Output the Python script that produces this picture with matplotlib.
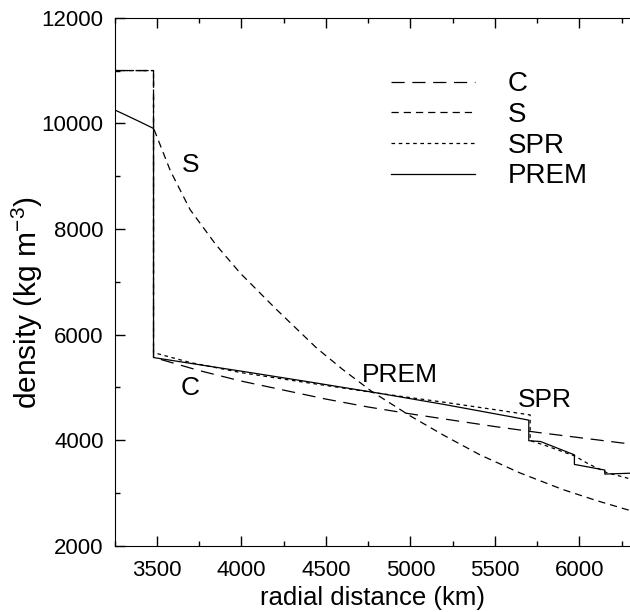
import matplotlib.pyplot as plt
import numpy as np

plt.rcParams['font.family'] = ['Liberation Sans', 'DejaVu Sans']
plt.rcParams['mathtext.default'] = 'regular'

# model C
c_r = [3250, 3480, 3480, 3750, 4000, 4250, 4500, 4750, 5000, 5250, 5500, 5750, 6000, 6300]
c_rho = [11000, 11000, 5570, 5320, 5120, 4950, 4780, 4630, 4500, 4380, 4260, 4150, 4050, 3930]

# model S
s_r = [3250, 3480, 3480, 3580, 3697, 3850, 3993, 4200, 4446, 4600, 4772, 5000, 5200, 5413, 5650, 5900, 6100, 6300]
s_rho = [11000, 11000, 9910, 9100, 8364, 7700, 7165, 6500, 5744, 5340, 4923, 4460, 4090, 3723, 3380, 3070, 2860, 2670]

# model SPR
spr_r = [3250, 3480, 3480, 3700, 4000, 4400, 4800, 5200, 5500, 5709, 5709, 5800, 5975, 6050, 6160, 6300]
spr_rho = [11000, 11000, 5660, 5470, 5280, 5085, 4895, 4720, 4580, 4480, 3995, 3900, 3700, 3560, 3390, 3270]

# PREM
prem_r = [3250, 3300, 3400, 3480, 3480, 3700, 4000, 4400, 4800, 5200, 5600, 5701, 5701, 5771, 5971, 5971,
          6151, 6151, 6291, 6300]
prem_rho = [10255, 10181, 10029, 9904, 5566, 5456, 5308, 5106, 4898, 4678, 4443, 4381, 3992, 3976, 3724, 3543,
            3436, 3360, 3375, 3376]

labels = ['C', 'S', 'SPR', 'PREM']

fig = plt.figure(figsize=(6.3, 6.12), dpi=100)
ax = fig.add_axes([0.182, 0.108, 0.818, 0.863])

lw = 0.9
l1, = ax.plot(c_r, c_rho, color='k', lw=lw, dashes=(9.5/lw, 5.5/lw), label=labels[0])
l2, = ax.plot(s_r, s_rho, color='k', lw=lw, dashes=(5.2/lw, 3.6/lw), label=labels[1])
l3, = ax.plot(spr_r, spr_rho, color='k', lw=lw, dashes=(2.6/lw, 2.6/lw), label=labels[2])
l4, = ax.plot(prem_r, prem_rho, color='k', lw=lw, label=labels[3])

ax.text(3697, 9216, 'S', fontsize=19, ha='center', va='center')
ax.text(3697, 4992, 'C', fontsize=19, ha='center', va='center')
ax.text(4940, 5239, 'PREM', fontsize=19, ha='center', va='center')
ax.text(5797, 4766, 'SPR', fontsize=19, ha='center', va='center')

ax.legend(handles=[l1, l2, l3, l4], frameon=False, fontsize=20,
          loc='upper left', bbox_to_anchor=(0.51, 0.925),
          handlelength=3.0, handletextpad=1.2, labelspacing=0.17, borderpad=0)

ax.set_xlim(3250, 6300)
ax.set_ylim(2000, 12000)
ax.set_xticks(np.arange(3500, 6001, 500))
ax.set_xticks(np.arange(3250, 6300, 250), minor=True)
ax.set_yticks(np.arange(2000, 12001, 2000))
ax.set_yticks(np.arange(3000, 12000, 2000), minor=True)
ax.spines['right'].set_visible(False)
ax.tick_params(which='both', direction='in', top=True, right=False, labelsize=16)
ax.tick_params(which='major', length=7, width=1)
ax.tick_params(which='minor', length=3.5, width=1)
ax.tick_params(axis='x', pad=10)
ax.tick_params(axis='y', pad=8)

ax.set_xlabel('radial distance (km)', fontsize=18.5, labelpad=4)
ax.set_ylabel('density (kg m$^{-3}$)', fontsize=21.5)
ax.yaxis.set_label_coords(-0.135, 0.46)

plt.savefig('out.png', dpi=100)
